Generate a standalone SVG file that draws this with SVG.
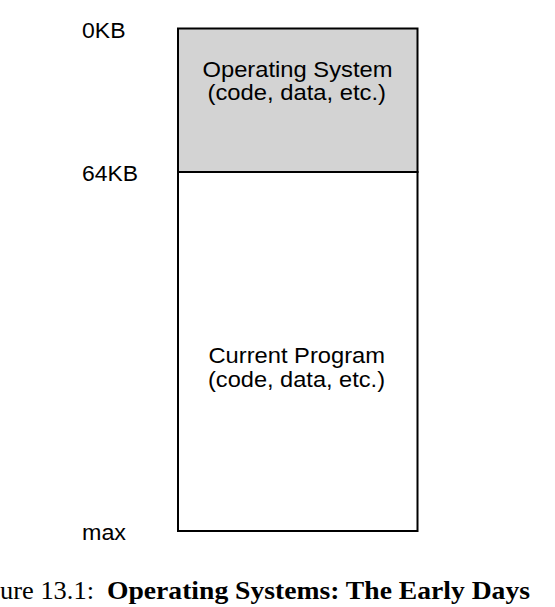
<svg xmlns="http://www.w3.org/2000/svg" width="555" height="607" viewBox="0 0 555 607">
<style>
.lbl{font-family:"Liberation Sans",Arial,sans-serif;font-size:22px;fill:#000}
.in{font-family:"Liberation Sans",Arial,sans-serif;font-size:21.5px;fill:#000}
.cap{font-family:"Liberation Serif","Times New Roman",serif;font-size:26px;fill:#000}
.box{stroke:#000;stroke-width:2}
</style>
<rect width="555" height="607" fill="#fff"/>
<g id="os">
<rect class="box" x="178" y="28.5" width="239.5" height="143.5" fill="#d3d3d3"/>
<text class="in" x="202.5" y="77" textLength="190" lengthAdjust="spacingAndGlyphs">Operating System</text>
<text class="in" x="207.5" y="100" textLength="178.5" lengthAdjust="spacingAndGlyphs">(code, data, etc.)</text>
</g>
<g id="program">
<rect class="box" x="178" y="172" width="239.5" height="359" fill="#fff"/>
<text class="in" x="208.5" y="363" textLength="176.5" lengthAdjust="spacingAndGlyphs">Current Program</text>
<text class="in" x="208" y="386.5" textLength="177" lengthAdjust="spacingAndGlyphs">(code, data, etc.)</text>
</g>
<g id="labels">
<text class="lbl" x="82" y="37.5" textLength="43.5" lengthAdjust="spacingAndGlyphs">0KB</text>
<text class="lbl" x="82" y="180.5" textLength="56" lengthAdjust="spacingAndGlyphs">64KB</text>
<text class="lbl" x="82" y="540" textLength="44" lengthAdjust="spacingAndGlyphs">max</text>
</g>
<g id="connectors"></g>
<g id="caption">
<text class="cap" x="0" y="598.5" textLength="94" lengthAdjust="spacingAndGlyphs">ure 13.1:</text>
<text class="cap" x="107" y="598.5" font-weight="bold" textLength="423" lengthAdjust="spacingAndGlyphs">Operating Systems: The Early Days</text>
</g>
</svg>
